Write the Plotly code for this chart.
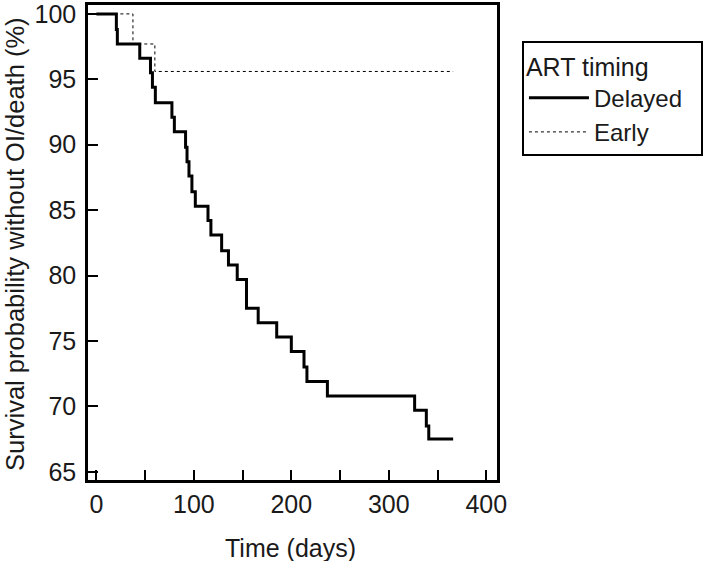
import plotly.graph_objects as go

# Kaplan-Meier step data
delayed_days = [0, 20.5, 21.5, 44.5, 55.5, 57.5, 60.5, 77.5, 80, 91.5, 93, 95, 98, 101.5,
                114.5, 117.5, 128.5, 135.5, 144.5, 154, 166, 185, 200, 213, 216, 237,
                326.5, 338.5, 341, 366]
delayed_surv = [100, 98.8, 97.7, 96.6, 95.5, 94.4, 93.2, 92.1, 91.0, 89.8, 88.7, 87.6, 86.4, 85.3,
                84.2, 83.1, 81.9, 80.8, 79.7, 77.5, 76.4, 75.3, 74.2, 73.0, 71.9, 70.8,
                69.7, 68.5, 67.5, 67.5]

early_days = [0, 37.5, 60, 366]
early_surv = [100, 97.7, 95.6, 95.6]

x_tickvals = [0, 50, 100, 150, 200, 250, 300, 350, 400]
x_ticktext = ["0", "", "100", "", "200", "", "300", "", "400"]
y_tickvals = [65, 70, 75, 80, 85, 90, 95, 100]

FONT = "Liberation Sans, Arial, Helvetica, sans-serif"
TXT = "#1a1a1a"
NB = "\u00a0"

fig = go.Figure()
fig.add_trace(go.Scatter(x=delayed_days, y=delayed_surv, mode="lines", name="Delayed" + NB * 2,
                         line=dict(shape="hv", color="black", width=3)))
fig.add_trace(go.Scatter(x=early_days, y=early_surv, mode="lines", name="Early",
                         line=dict(shape="hv", color="black", width=1, dash="dot")))

axis_common = dict(showgrid=False, zeroline=False, showline=True, linecolor="black",
                   linewidth=2.5, mirror=True, ticks="inside", ticklen=10, tickwidth=2,
                   tickcolor="black", automargin=False, ticklabeloverflow="allow",
                   tickfont=dict(family=FONT, size=25, color=TXT))

fig.update_layout(
    width=720, height=561,
    margin=dict(l=88, r=223, t=5, b=81),
    plot_bgcolor="white", paper_bgcolor="white",
    font=dict(family=FONT, color=TXT),
    xaxis=dict(range=[-8.6, 411], tickmode="array", tickvals=x_tickvals,
               ticktext=x_ticktext, **axis_common),
    yaxis=dict(range=[64.37, 100.68], tickmode="array", tickvals=y_tickvals,
               ticklabelstandoff=4, **axis_common),
    showlegend=True,
    legend=dict(x=1.061, y=0.924, xanchor="left", yanchor="top",
                bordercolor="black", borderwidth=2, bgcolor="white",
                itemwidth=60, tracegroupgap=0,
                font=dict(family=FONT, size=24, color=TXT),
                title=dict(text="ART timing", font=dict(family=FONT, size=25, color=TXT))),
    annotations=[
        dict(text="Time (days)", xref="paper", yref="paper", x=0.494, y=-0.143,
             xanchor="center", yanchor="middle", showarrow=False,
             font=dict(family=FONT, size=25, color=TXT)),
        dict(text="Survival probability without OI/death (%)", xref="paper", yref="paper",
             x=-0.1785, y=0.497, xanchor="center", yanchor="middle", textangle=-90,
             showarrow=False, font=dict(family=FONT, size=25.5, color=TXT)),
    ],
)

fig.write_html("out.html", post_script="document.body.style.margin='0';",
               config={"displayModeBar": False})
